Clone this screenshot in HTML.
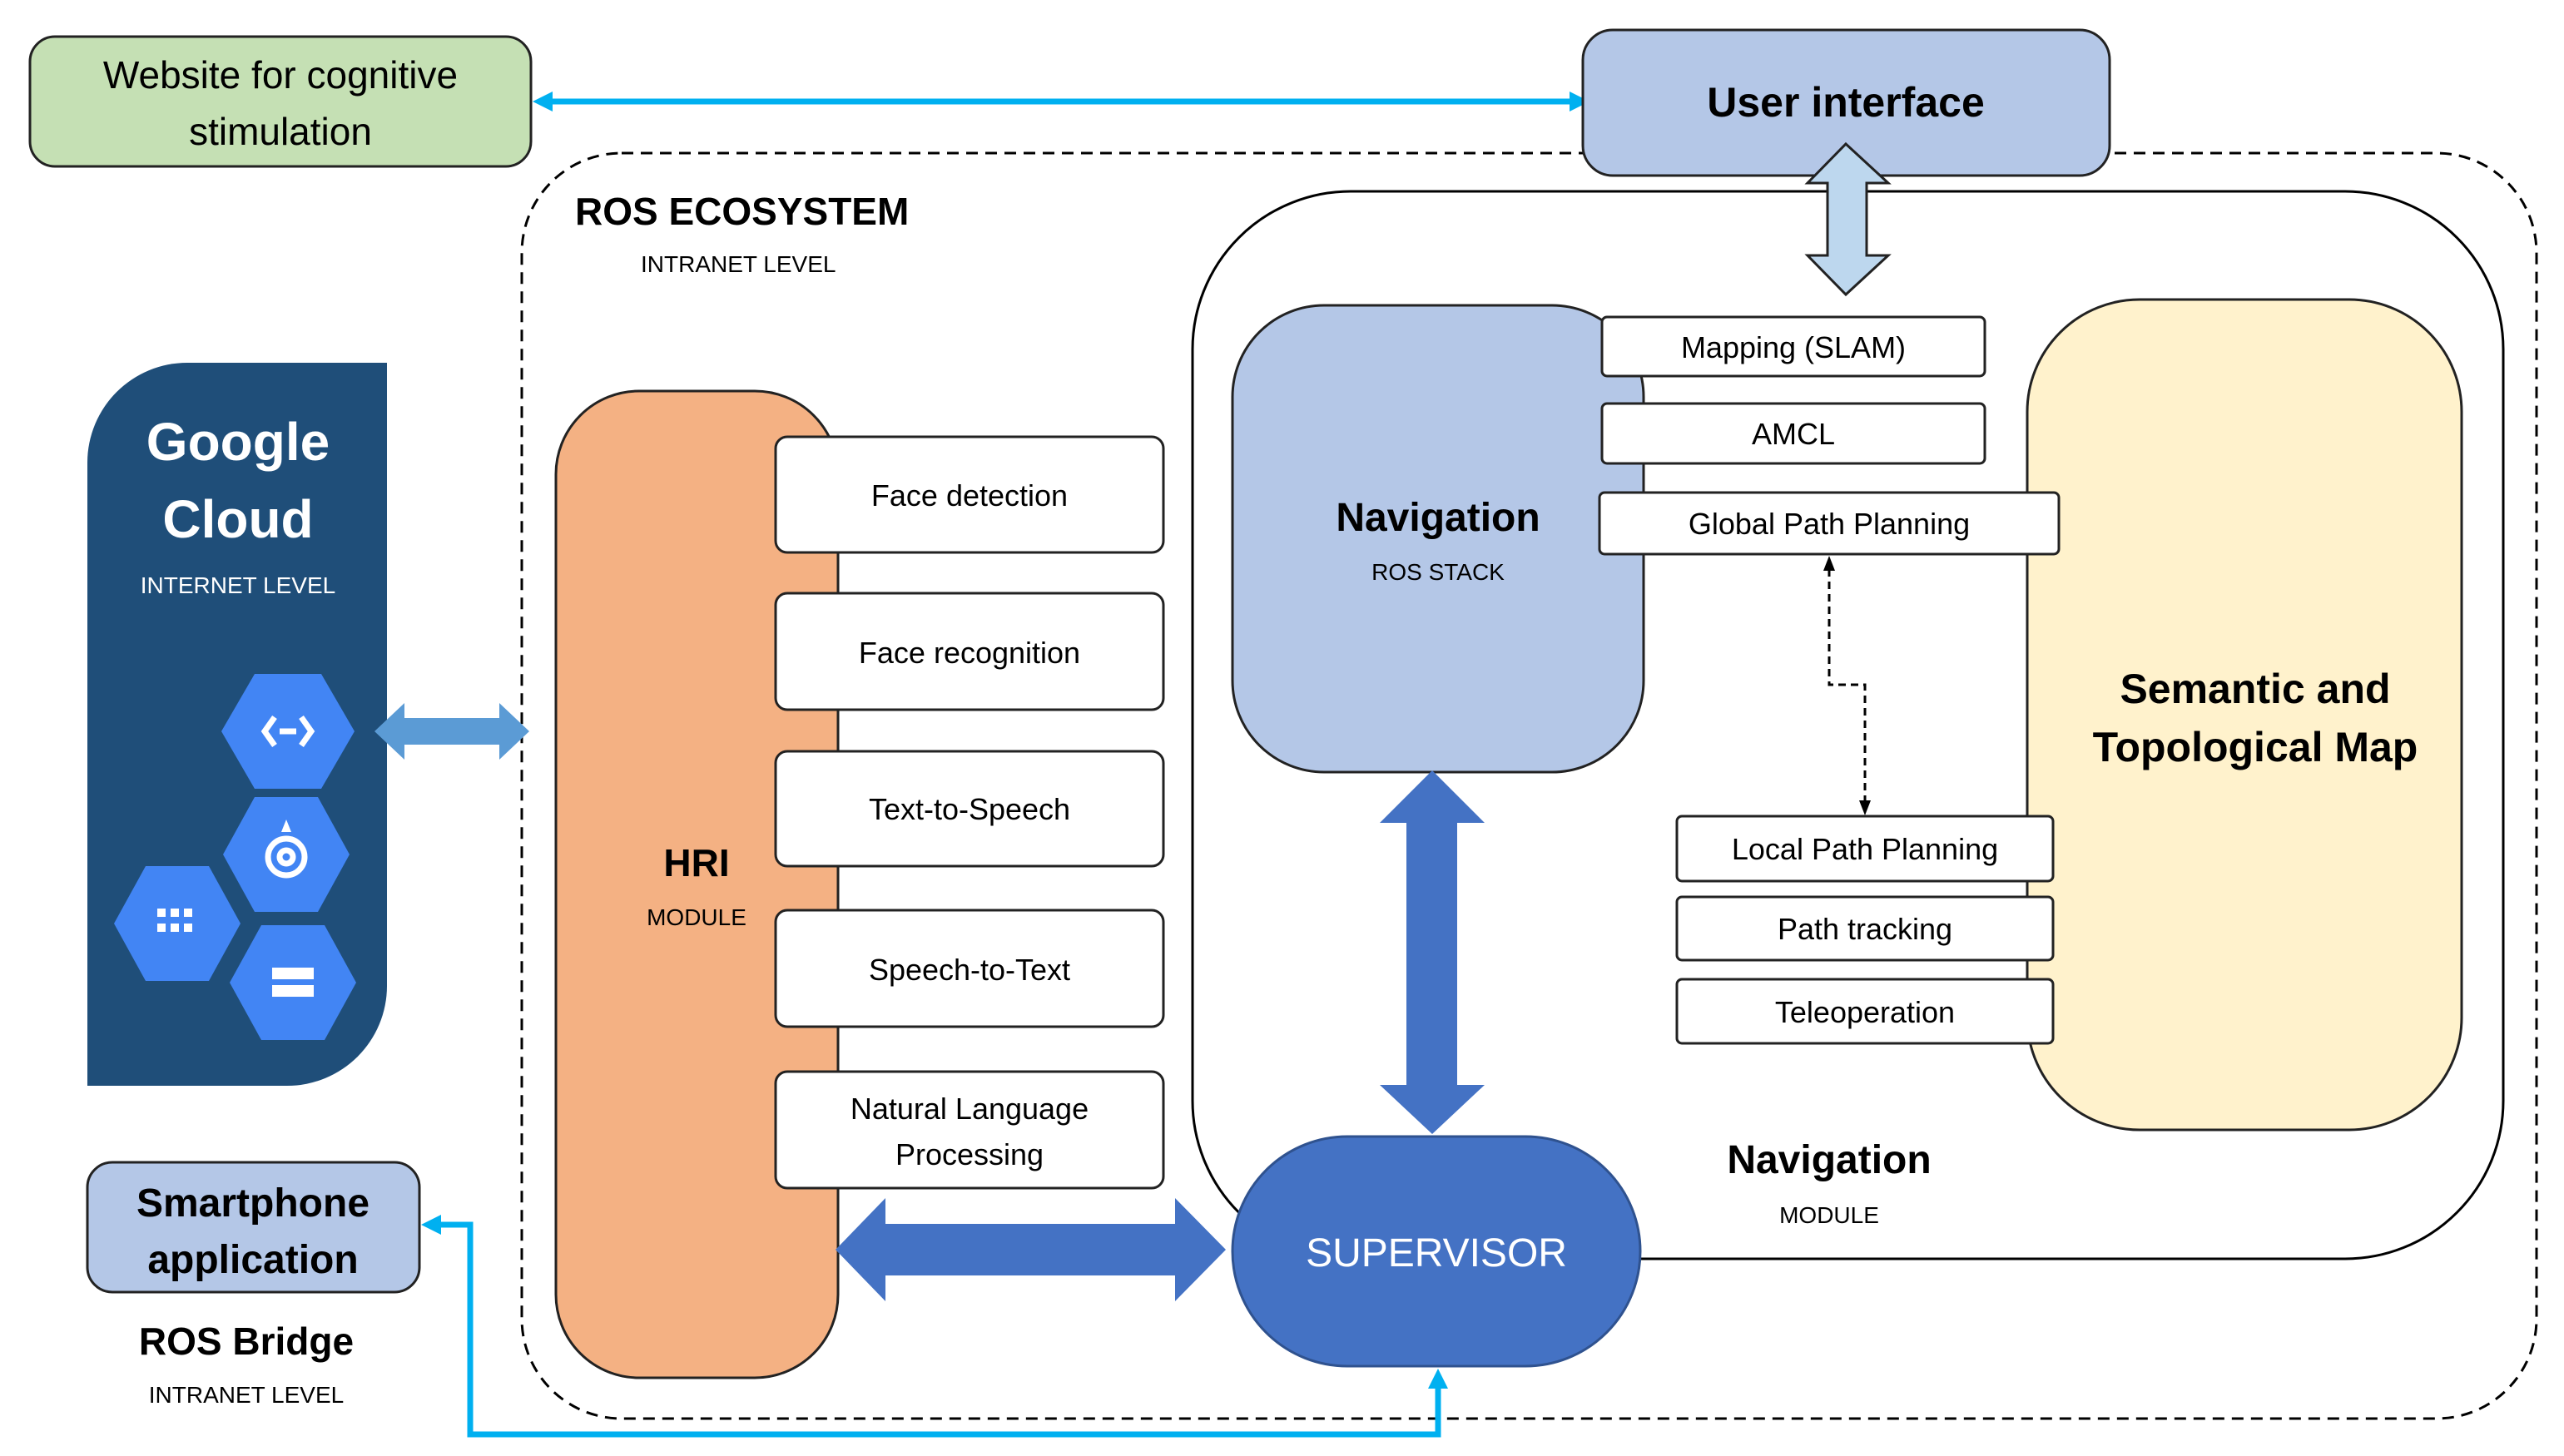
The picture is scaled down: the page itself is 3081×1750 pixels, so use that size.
<!DOCTYPE html>
<html><head><meta charset="utf-8"><style>
html,body{margin:0;padding:0;background:#fff}
svg{display:block}
text{font-family:"Liberation Sans",sans-serif}
</style></head><body>
<svg width="3081" height="1750" viewBox="0 0 3081 1750" xmlns="http://www.w3.org/2000/svg">
<rect x="627" y="184" width="2421" height="1521" rx="120" fill="none" stroke="#000" stroke-width="3" stroke-dasharray="14,9"/>
<rect x="1433" y="230" width="1575" height="1283" rx="190" fill="#fff" stroke="#000" stroke-width="3"/>

<rect x="36" y="44" width="602" height="156" rx="30" fill="#c5e0b4" stroke="#222" stroke-width="3"/>
<text x="337" y="106" font-size="46" text-anchor="middle">Website for cognitive</text>
<text x="337" y="174" font-size="46" text-anchor="middle">stimulation</text>

<line x1="660" y1="122" x2="1890" y2="122" stroke="#00b0f0" stroke-width="7"/>
<polygon points="640,122 664,110 664,134" fill="#00b0f0"/>
<polygon points="1910,122 1886,110 1886,134" fill="#00b0f0"/>

<rect x="1902" y="36" width="633" height="175" rx="36" fill="#b4c7e7" stroke="#222" stroke-width="3"/>
<text x="2218" y="140" font-size="50" font-weight="bold" text-anchor="middle">User interface</text>

<polygon points="2218,173 2269,220 2243,220 2243,307 2269,307 2218,354 2172,307 2196,307 2196,220 2172,220" fill="#bdd7ee" stroke="#222" stroke-width="3"/>

<text x="691" y="270" font-size="46" font-weight="bold">ROS ECOSYSTEM</text>
<text x="770" y="327" font-size="28">INTRANET LEVEL</text>

<path d="M225,436 H465 V1185 A120,120 0 0 1 345,1305 H105 V556 A120,120 0 0 1 225,436 Z" fill="#1f4e79"/>
<text x="286" y="553" font-size="64" font-weight="bold" fill="#fff" text-anchor="middle">Google</text>
<text x="286" y="646" font-size="64" font-weight="bold" fill="#fff" text-anchor="middle">Cloud</text>
<text x="286" y="713" font-size="28" fill="#fff" text-anchor="middle">INTERNET LEVEL</text>
<g fill="#4285f4">
<polygon points="306,810 386,810 426,879 386,948 306,948 266,879"/>
<polygon points="306,958 382,958 420,1027 382,1096 306,1096 268,1027"/>
<polygon points="175,1041 251,1041 289,1110 251,1179 175,1179 137,1110"/>
<polygon points="314,1112 390,1112 428,1181 390,1250 314,1250 276,1181"/>
</g>
<g fill="none" stroke="#fff" stroke-width="7">
<path d="M330,862 L318,879 L330,896 M362,862 L374,879 L362,896 M336,879 H356"/>
<circle cx="344" cy="1030" r="22"/>
<circle cx="344" cy="1030" r="8"/>
</g>
<polygon points="344,985 338,1000 350,1000" fill="#fff"/>
<g fill="#fff">
<rect x="189" y="1092" width="10" height="10"/><rect x="205" y="1092" width="10" height="10"/><rect x="221" y="1092" width="10" height="10"/>
<rect x="189" y="1110" width="10" height="10"/><rect x="205" y="1110" width="10" height="10"/><rect x="221" y="1110" width="10" height="10"/>
<rect x="327" y="1163" width="50" height="14"/><rect x="327" y="1184" width="50" height="14"/>
</g>

<polygon points="450,879 486,845 486,863 600,863 600,845 636,879 600,913 600,895 486,895 486,913" fill="#5b9bd5"/>

<rect x="668" y="470" width="339" height="1186" rx="100" fill="#f4b183" stroke="#222" stroke-width="3"/>
<text x="837" y="1053" font-size="46" font-weight="bold" text-anchor="middle">HRI</text>
<text x="837" y="1112" font-size="28" text-anchor="middle">MODULE</text>
<g fill="#fff" stroke="#222" stroke-width="3">
<rect x="932" y="525" width="466" height="139" rx="14"/>
<rect x="932" y="713" width="466" height="140" rx="14"/>
<rect x="932" y="903" width="466" height="138" rx="14"/>
<rect x="932" y="1094" width="466" height="140" rx="14"/>
<rect x="932" y="1288" width="466" height="140" rx="14"/>
</g>
<g font-size="36" text-anchor="middle">
<text x="1165" y="608">Face detection</text>
<text x="1165" y="797">Face recognition</text>
<text x="1165" y="985">Text-to-Speech</text>
<text x="1165" y="1178">Speech-to-Text</text>
<text x="1165" y="1345">Natural Language</text>
<text x="1165" y="1400">Processing</text>
</g>

<polygon points="1004,1502 1064,1440 1064,1471 1412,1471 1412,1440 1473,1502 1412,1564 1412,1533 1064,1533 1064,1564" fill="#4472c4"/>

<rect x="1481" y="367" width="494" height="561" rx="110" fill="#b4c7e7" stroke="#222" stroke-width="3"/>
<text x="1728" y="638" font-size="48" font-weight="bold" text-anchor="middle">Navigation</text>
<text x="1728" y="697" font-size="28" text-anchor="middle">ROS STACK</text>

<polygon points="1721,926 1784,989 1751,989 1751,1304 1784,1304 1721,1363 1658,1304 1690,1304 1690,989 1658,989" fill="#4472c4"/>

<rect x="2436" y="360" width="522" height="998" rx="135" fill="#fff2cc" stroke="#222" stroke-width="3"/>
<text x="2710" y="845" font-size="50" font-weight="bold" text-anchor="middle">Semantic and</text>
<text x="2710" y="915" font-size="50" font-weight="bold" text-anchor="middle">Topological Map</text>

<g fill="#fff" stroke="#222" stroke-width="3">
<rect x="1925" y="381" width="460" height="71" rx="6"/>
<rect x="1925" y="485" width="460" height="72" rx="6"/>
<rect x="1922" y="592" width="552" height="74" rx="6"/>
<rect x="2015" y="981" width="452" height="78" rx="6"/>
<rect x="2015" y="1078" width="452" height="76" rx="6"/>
<rect x="2015" y="1177" width="452" height="77" rx="6"/>
</g>
<g font-size="36" text-anchor="middle">
<text x="2155" y="430">Mapping (SLAM)</text>
<text x="2155" y="534">AMCL</text>
<text x="2198" y="642">Global Path Planning</text>
<text x="2241" y="1033">Local Path Planning</text>
<text x="2241" y="1129">Path tracking</text>
<text x="2241" y="1229">Teleoperation</text>
</g>

<path d="M2198,684 V823 H2241 V964" fill="none" stroke="#000" stroke-width="3" stroke-dasharray="9,6"/>
<polygon points="2198,668 2191,686 2205,686" fill="#000"/>
<polygon points="2241,980 2234,962 2248,962" fill="#000"/>

<text x="2198" y="1410" font-size="48" font-weight="bold" text-anchor="middle">Navigation</text>
<text x="2198" y="1470" font-size="28" text-anchor="middle">MODULE</text>

<rect x="1481" y="1366" width="490" height="276" rx="138" fill="#4472c4" stroke="#2f528f" stroke-width="3"/>
<text x="1726" y="1522" font-size="48" fill="#fff" text-anchor="middle">SUPERVISOR</text>

<rect x="105" y="1397" width="399" height="156" rx="30" fill="#b4c7e7" stroke="#222" stroke-width="3"/>
<text x="304" y="1462" font-size="48" font-weight="bold" text-anchor="middle">Smartphone</text>
<text x="304" y="1530" font-size="48" font-weight="bold" text-anchor="middle">application</text>
<text x="296" y="1628" font-size="46" font-weight="bold" text-anchor="middle">ROS Bridge</text>
<text x="296" y="1686" font-size="28" text-anchor="middle">INTRANET LEVEL</text>

<path d="M1728,1665 V1724 H565 V1472 H526" fill="none" stroke="#00b0f0" stroke-width="7"/>
<polygon points="1728,1645 1716,1669 1740,1669" fill="#00b0f0"/>
<polygon points="506,1472 530,1460 530,1484" fill="#00b0f0"/>
</svg>
</body></html>
